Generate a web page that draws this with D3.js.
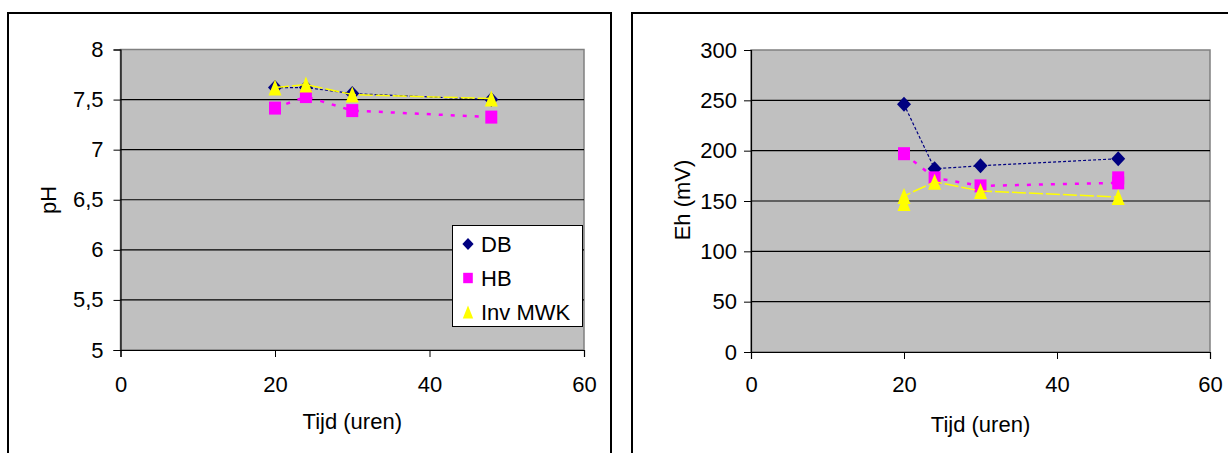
<!DOCTYPE html>
<html>
<head>
<meta charset="utf-8">
<script src="https://cdn.jsdelivr.net/npm/d3@7"></script>
<style>
  body { margin: 0; background: #fff; }
  svg { display: block; font-family: "Liberation Sans", Arial, sans-serif; }
</style>
</head>
<body>
<svg id="chart" width="1228" height="453"></svg>
<script>
// sampling times (hours)
const tijd = [20, 24, 30, 48];
const xTicks = [0, 20, 40, 60];

// pH panel
const phDB = [7.62, 7.62, 7.56, 7.50];
const phHB = [7.415, 7.53, 7.39, 7.325];
const phInv = [7.62, 7.65, 7.55, 7.51];
const phTicks = [5, 5.5, 6, 6.5, 7, 7.5, 8];

// Eh panel (some times have two readings)
const ehDBTijd = [20, 24, 30, 48];
const ehDB = [246, 182, 185, 192];
const ehHBTijd = [20, 24, 30, 48, 48];
const ehHB = [197, 173, 165, 168, 173];
const ehInvTijd = [20, 20, 24, 30, 48];
const ehInv = [148, 155, 169, 160, 154];
const ehTicks = [0, 50, 100, 150, 200, 250, 300];

const seriesNames = ["DB", "HB", "Inv MWK"];

const styles = {
  "DB": { color: "#000080", width: 1.2, dash: "3,2", marker: "diamond" },
  "HB": { color: "#FF00FF", width: 2.5, dash: "4,8", marker: "square" },
  "Inv MWK": { color: "#FFFF00", width: 1.5, dash: "14,3", marker: "triangle" }
};

const svg = d3.select("#chart");
const fontSize = 22;
const comma = d => String(d).replace(".", ",");

function markerPath(type, s) {
  if (type === "diamond") return `M0,${-7.5 * s}L${7 * s},0L0,${7.5 * s}L${-7 * s},0Z`;
  if (type === "square") return `M${-6 * s},${-6.5 * s}h${12 * s}v${13 * s}h${-12 * s}Z`;
  return `M0,${-8 * s}L${6.5 * s},${8 * s}L${-6.5 * s},${8 * s}Z`;
}

function drawPanel(cfg) {
  const g = svg.append("g");

  // outer chart frame
  g.append("rect")
    .attr("x", cfg.frame[0]).attr("y", 13)
    .attr("width", cfg.frame[1] - cfg.frame[0]).attr("height", 460)
    .attr("fill", "#fff").attr("stroke", "#000").attr("stroke-width", 2);

  const x = d3.scaleLinear().domain([0, 60]).range(cfg.xRange);
  const y = d3.scaleLinear().domain(cfg.yDomain).range(cfg.yRange);

  // plot area
  g.append("rect")
    .attr("x", x(0)).attr("y", y(cfg.yDomain[1]))
    .attr("width", x(60) - x(0)).attr("height", y(cfg.yDomain[0]) - y(cfg.yDomain[1]))
    .attr("fill", "#C0C0C0").attr("stroke", "#808080").attr("stroke-width", 1.5);

  // gridlines
  g.append("g").selectAll("line")
    .data(cfg.yTicks.slice(1, -1))
    .join("line")
    .attr("x1", x(0)).attr("x2", x(60))
    .attr("y1", d => y(d)).attr("y2", d => y(d))
    .attr("stroke", "#000").attr("stroke-width", 1.2);

  const yAxis = g.append("g")
    .attr("transform", `translate(${x(0)},0)`)
    .call(d3.axisLeft(y).tickValues(cfg.yTicks).tickFormat(comma).tickSize(7).tickPadding(cfg.yPad));
  const xAxis = g.append("g")
    .attr("transform", `translate(0,${y(cfg.yDomain[0])})`)
    .call(d3.axisBottom(x).tickValues(xTicks).tickSize(7).tickPadding(cfg.xPad));
  [yAxis, xAxis].forEach(a => {
    a.select(".domain").attr("stroke", "#000").attr("stroke-width", 1.2);
    a.selectAll("text").attr("font-size", fontSize).attr("fill", "#000")
      .attr("font-family", "Liberation Sans, Arial, sans-serif");
  });

  // series
  cfg.series.forEach(s => {
    const st = styles[s.name];
    const pts = s.xs.map((t, i) => [t, s.ys[i]]);
    const line = d3.line().x(d => x(d[0])).y(d => y(d[1]));
    g.append("path")
      .attr("d", line(pts))
      .attr("fill", "none")
      .attr("stroke", st.color)
      .attr("stroke-width", st.width)
      .attr("stroke-dasharray", st.dash);
    g.append("g").selectAll("path")
      .data(pts)
      .join("path")
      .attr("transform", d => `translate(${x(d[0])},${y(d[1])})`)
      .attr("d", markerPath(st.marker, 1))
      .attr("fill", st.color);
  });

  // axis titles
  g.append("text")
    .attr("x", (cfg.xRange[0] + cfg.xRange[1]) / 2).attr("y", cfg.xTitleY)
    .attr("text-anchor", "middle").attr("font-size", fontSize)
    .text("Tijd (uren)");
  g.append("text")
    .attr("transform", `translate(${cfg.yTitleX},200) rotate(-90)`)
    .attr("text-anchor", "middle").attr("font-size", fontSize)
    .text(cfg.yTitle);
}

drawPanel({
  frame: [8, 611],
  xRange: [120.5, 584],
  yDomain: [5, 8],
  yRange: [350, 49.5],
  yTicks: phTicks,
  yPad: 10,
  xPad: 19,
  xTitleY: 429,
  yTitle: "pH",
  yTitleX: 56,
  series: [
    { name: "DB", xs: tijd, ys: phDB },
    { name: "HB", xs: tijd, ys: phHB },
    { name: "Inv MWK", xs: tijd, ys: phInv }
  ]
});

drawPanel({
  frame: [632, 1240],
  xRange: [751, 1210],
  yDomain: [0, 300],
  yRange: [352, 50],
  yTicks: ehTicks,
  yPad: 7,
  xPad: 17,
  xTitleY: 432,
  yTitle: "Eh (mV)",
  yTitleX: 690,
  series: [
    { name: "DB", xs: ehDBTijd, ys: ehDB },
    { name: "HB", xs: ehHBTijd, ys: ehHB },
    { name: "Inv MWK", xs: ehInvTijd, ys: ehInv }
  ]
});

// legend in the pH panel
const legend = svg.append("g");
legend.append("rect")
  .attr("x", 452.5).attr("y", 225.5).attr("width", 130).attr("height", 101)
  .attr("fill", "#fff").attr("stroke", "#000").attr("stroke-width", 1);
const rowY = d3.scalePoint().domain(seriesNames).range([244, 312]);
const items = legend.selectAll("g.item").data(seriesNames).join("g")
  .attr("class", "item")
  .attr("transform", d => `translate(468,${rowY(d)})`);
items.append("path")
  .attr("d", d => markerPath(styles[d].marker, 0.8))
  .attr("fill", d => styles[d].color);
items.append("text")
  .attr("x", 13).attr("y", 8)
  .attr("font-size", fontSize)
  .text(d => d);
</script>
</body>
</html>
